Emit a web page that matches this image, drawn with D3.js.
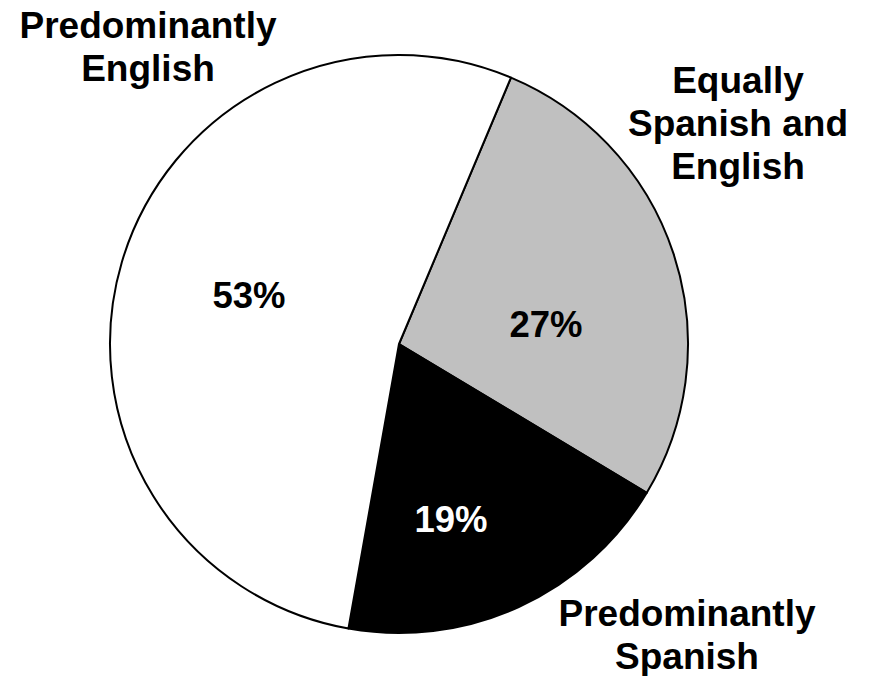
<!DOCTYPE html>
<html>
<head>
<meta charset="utf-8">
<script src="https://cdn.jsdelivr.net/npm/d3@7"></script>
<style>
html,body{margin:0;padding:0;background:#fff;}
svg{display:block;}
text{font-family:"Liberation Sans",Arial,sans-serif;font-weight:bold;}
</style>
</head>
<body>
<svg id="chart" width="869" height="676"></svg>
<script>
const categories = ["Equally Spanish and English", "Predominantly Spanish", "Predominantly English"];
const values = [27, 19, 53];
const pctLabels = ["27%", "19%", "53%"];
const fills = ["#c0c0c0", "#000000", "#ffffff"];
const pctColors = ["#000", "#fff", "#000"];
const nameLines = [["Equally", "Spanish and", "English"], ["Predominantly", "Spanish"], ["Predominantly", "English"]];

const svg = d3.select("#chart");
const cx = 399, cy = 344, r = 289;
const g = svg.append("g").attr("transform", `translate(${cx},${cy})`);

const startDeg = 22.8;
const pie = d3.pie().sort(null).value(d => d)
  .startAngle(startDeg * Math.PI / 180)
  .endAngle((startDeg + 360) * Math.PI / 180);
const arcs = pie(values);
const arc = d3.arc().innerRadius(0).outerRadius(r);

g.selectAll("path.slice").data(arcs).enter().append("path")
  .attr("class", "slice")
  .attr("d", arc)
  .attr("fill", (d, i) => fills[i])
  .attr("stroke", "#000")
  .attr("stroke-width", 2)
  .attr("stroke-linejoin", "round");

// percentage labels
const pctPos = [[147, -7], [52, 188], [-150, -36]];
g.selectAll("text.pct").data(arcs).enter().append("text")
  .attr("class", "pct")
  .attr("x", (d, i) => pctPos[i][0])
  .attr("y", (d, i) => pctPos[i][1])
  .attr("text-anchor", "middle")
  .attr("font-size", 36.5)
  .attr("fill", (d, i) => pctColors[i])
  .text((d, i) => pctLabels[i]);

// category labels
const namePos = [[738, 93], [687, 626], [148, 38]];
const lineH = 43;
nameLines.forEach((lines, i) => {
  const t = svg.append("text")
    .attr("text-anchor", "middle")
    .attr("font-size", 37)
    .attr("fill", "#000");
  lines.forEach((ln, j) => {
    t.append("tspan").attr("x", namePos[i][0]).attr("y", namePos[i][1] + j * lineH).text(ln);
  });
});
</script>
</body>
</html>
